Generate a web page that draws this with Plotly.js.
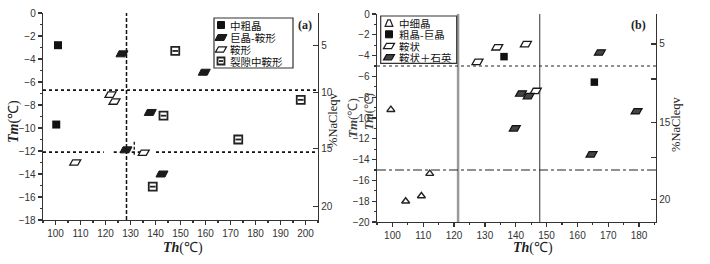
<!DOCTYPE html>
<html><head><meta charset="utf-8">
<script src="https://cdn.plot.ly/plotly-3.0.1.min.js"></script>
<style>html,body{margin:0;padding:0;background:#fff}#chart{width:710px;height:264px}</style>
</head><body><div id="chart"></div>
<script>
// ---------- data: panel (a) ----------
const a_names = ['中粗晶', '巨晶-鞍形', '鞍形', '裂隙中鞍形'];
const a_cg_th = [101.0, 100.3];
const a_cg_tm = [-2.8, -9.7];
const a_jj_th = [126.6, 159.5, 137.9, 142.6, 128.2];
const a_jj_tm = [-3.55, -5.15, -8.65, -14.0, -11.9];
const a_ax_th = [122.0, 123.6, 107.9, 135.3];
const a_ax_tm = [-7.1, -7.7, -13.0, -12.15];
const a_lx_th = [147.9, 143.2, 138.9, 173.1, 198.1];
const a_lx_tm = [-3.3, -8.93, -15.1, -11.0, -7.55];
const a_sal_vals = [-2.82, -6.9, -11.8, -16.8];
const a_sal_text = ['5', '10', '15', '20'];
const a_vline = 128.4;
const a_vseg = [131.5, -11.2, -12.4];
const a_hline1 = -6.7;
const a_hline2 = -12.1;
const a_hline2_segs = [[95, 119.3], [123.3, 137.5], [140.2, 205]];

// ---------- data: panel (b) ----------
const b_names = ['中细晶', '粗晶-巨晶', '鞍状', '鞍状＋石英'];
const b_xx_th = [99.5, 104.3, 109.4, 112.1];
const b_xx_tm = [-9.2, -18.0, -17.5, -15.35];
const b_cj_th = [136.2, 165.5];
const b_cj_tm = [-4.1, -6.55];
const b_az_th = [127.6, 134.0, 143.3, 146.5];
const b_az_tm = [-4.6, -3.2, -2.9, -7.4];
const b_aq_th = [167.3, 141.7, 144.2, 139.7, 179.2, 164.6];
const b_aq_tm = [-3.7, -7.65, -7.9, -11.0, -9.35, -13.5];
const b_sal_vals = [-2.88, -6.24, -10.4, -13.82, -17.82];
const b_sal_text = ['5', '', '15', '', '20'];
const b_vlines = [121.3, 147.8];
const b_hlines = [-5, -15];

// ---------- helpers ----------
const W = 710, H = 264;
const px = x => x / W, py = y => 1 - y / H;
const PARA = 'M-6,-3L3,-3L6,3L-3,3Z';
const PARA_S = 'M-5.5,-2.7L2.5,-2.7L5.5,2.7L-2.5,2.7Z';
const TRI = 'M-3.8,-3L3.8,-3L1.2,3.5L-1.2,3.5Z';

function pshape(xref, yref, x, y, path, fill, color, lw) {
  return {type: 'path', xref, yref, xsizemode: 'pixel', ysizemode: 'pixel',
    xanchor: x, yanchor: y, path, fillcolor: fill, line: {color, width: lw}, layer: 'above'};
}
function prect(xref, yref, x, y, hw, hh, fill, color, lw) {
  return {type: 'rect', xref, yref, xsizemode: 'pixel', ysizemode: 'pixel',
    xanchor: x, yanchor: y, x0: -hw, x1: hw, y0: -hh, y1: hh, fillcolor: fill, line: {color, width: lw}, layer: 'above'};
}

const shapes = [];
// reference lines (a)
shapes.push({type: 'line', xref: 'x', yref: 'y', x0: a_vline, x1: a_vline, y0: -18, y1: 0,
  line: {color: '#111', width: 1.5, dash: '4px,2px'}, layer: 'below'});
shapes.push({type: 'line', xref: 'x', yref: 'y', x0: a_vseg[0], x1: a_vseg[0], y0: a_vseg[1], y1: a_vseg[2],
  line: {color: '#111', width: 1.3, dash: '3px,2px'}, layer: 'below'});
shapes.push({type: 'line', xref: 'x', yref: 'y', x0: 95, x1: 205, y0: a_hline1, y1: a_hline1,
  line: {color: '#111', width: 1.8, dash: 'dot'}, layer: 'below'});
a_hline2_segs.forEach(s => shapes.push({type: 'line', xref: 'x', yref: 'y', x0: s[0], x1: s[1], y0: a_hline2, y1: a_hline2,
  line: {color: '#111', width: 1.8, dash: 'dot'}, layer: 'below'}));
// reference lines (b)
shapes.push({type: 'line', xref: 'x2', yref: 'y2', x0: b_vlines[0], x1: b_vlines[0], y0: -20, y1: 0,
  line: {color: '#999', width: 2.5}, layer: 'below'});
shapes.push({type: 'line', xref: 'x2', yref: 'y2', x0: b_vlines[1], x1: b_vlines[1], y0: -20, y1: 0,
  line: {color: '#333', width: 1}, layer: 'below'});
shapes.push({type: 'line', xref: 'x2', yref: 'y2', x0: 95, x1: 186, y0: b_hlines[0], y1: b_hlines[0],
  line: {color: '#222', width: 1, dash: 'dot'}, layer: 'below'});
shapes.push({type: 'line', xref: 'x2', yref: 'y2', x0: 95, x1: 186, y0: b_hlines[1], y1: b_hlines[1],
  line: {color: '#222', width: 1, dash: 'dashdot'}, layer: 'below'});

// parallelogram markers
a_jj_th.forEach((t, i) => shapes.push(pshape('x', 'y', t, a_jj_tm[i], PARA, '#1a1a1a', '#1a1a1a', 1)));
a_ax_th.forEach((t, i) => shapes.push(pshape('x', 'y', t, a_ax_tm[i], PARA_S, '#fff', '#1a1a1a', 1.3)));
b_az_th.forEach((t, i) => shapes.push(pshape('x2', 'y2', t, b_az_tm[i], PARA_S, '#fff', '#1a1a1a', 1.3)));
b_aq_th.forEach((t, i) => shapes.push(pshape('x2', 'y2', t, b_aq_tm[i], PARA_S, '#444', '#111', 1.2)));

// legend boxes
shapes.push({type: 'rect', xref: 'paper', yref: 'paper', x0: px(214), x1: px(293), y0: py(68), y1: py(18),
  line: {color: '#333', width: 1.2}, fillcolor: 'rgba(255,255,255,0)'});
shapes.push({type: 'rect', xref: 'paper', yref: 'paper', x0: px(380.7), x1: px(456.7), y0: py(63.3), y1: py(16),
  line: {color: '#333', width: 1.2}, fillcolor: 'rgba(255,255,255,0)'});
const aLegY = [25, 37.5, 49.5, 61], aSymX = 221, aTxtX = 229;
const bLegY = [23.3, 34.3, 46, 57.3], bSymX = 389, bTxtX = 398;
shapes.push(prect('paper', 'paper', px(aSymX), py(aLegY[0]), 3.5, 3.5, '#111', '#111', 1));
shapes.push(pshape('paper', 'paper', px(aSymX), py(aLegY[1]), PARA, '#1a1a1a', '#1a1a1a', 1));
shapes.push(pshape('paper', 'paper', px(aSymX), py(aLegY[2]), PARA_S, '#fff', '#1a1a1a', 1.3));
shapes.push(prect('paper', 'paper', px(aSymX), py(aLegY[3]), 3.5, 3.5, '#fff', '#222', 1.8));
shapes.push({type: 'line', xref: 'paper', yref: 'paper', xsizemode: 'pixel', ysizemode: 'pixel',
  xanchor: px(aSymX), yanchor: py(aLegY[3]), x0: -2, x1: 2, y0: 0, y1: 0, line: {color: '#222', width: 1.8}});
shapes.push(pshape('paper', 'paper', px(bSymX), py(bLegY[0]), TRI, '#fff', '#222', 1.3));
shapes.push(prect('paper', 'paper', px(bSymX), py(bLegY[1]), 3.5, 3.5, '#111', '#111', 1));
shapes.push(pshape('paper', 'paper', px(bSymX), py(bLegY[2]), PARA_S, '#fff', '#1a1a1a', 1.3));
shapes.push(pshape('paper', 'paper', px(bSymX), py(bLegY[3]), PARA_S, '#444', '#111', 1.2));

// ---------- traces ----------
const traces = [
  {x: a_cg_th, y: a_cg_tm, xaxis: 'x', yaxis: 'y', mode: 'markers', name: a_names[0],
   marker: {symbol: 'square', size: 8, color: '#111', line: {width: 0}}},
  {x: a_lx_th, y: a_lx_tm, xaxis: 'x', yaxis: 'y', mode: 'markers', name: a_names[3],
   marker: {symbol: 'square', size: 8, color: '#fff', line: {width: 1.8, color: '#222'}}},
  {x: a_lx_th, y: a_lx_tm, xaxis: 'x', yaxis: 'y', mode: 'markers', name: a_names[3], hoverinfo: 'skip',
   marker: {symbol: 'line-ew', size: 4, line: {width: 1.8, color: '#222'}}},
  {x: b_xx_th, y: b_xx_tm, xaxis: 'x2', yaxis: 'y2', mode: 'markers', name: b_names[0],
   marker: {symbol: 'triangle-up-open', size: 7, color: '#222', line: {width: 1.4, color: '#222'}}},
  {x: b_cj_th, y: b_cj_tm, xaxis: 'x2', yaxis: 'y2', mode: 'markers', name: b_names[1],
   marker: {symbol: 'square', size: 7.5, color: '#111', line: {width: 0}}},
  // right salinity axes (carry no marks)
  {x: [], y: [], xaxis: 'x', yaxis: 'y3', mode: 'markers'},
  {x: [], y: [], xaxis: 'x2', yaxis: 'y4', mode: 'markers'}
];

// ---------- axes ----------
const tickFont = {family: 'Liberation Sans, Arial, sans-serif', size: 10, color: '#333'};
const xBase = {showgrid: false, zeroline: false, showline: true, linecolor: '#333', linewidth: 1.3,
  ticks: 'outside', ticklen: 4, tickwidth: 1.2, tickcolor: '#333', tickfont: tickFont, dtick: 10, tick0: 100,
  minor: {dtick: 5, ticks: 'outside', ticklen: 2, tickcolor: '#333', showgrid: false}, fixedrange: true};
const yBase = {showgrid: false, zeroline: false, showline: true, linecolor: '#333', linewidth: 1.3,
  ticks: 'outside', ticklen: 4, tickwidth: 1.2, tickcolor: '#333', tickfont: tickFont, dtick: 2,
  minor: {dtick: 1, ticks: 'outside', ticklen: 2, tickcolor: '#333', showgrid: false}, fixedrange: true};
const rBase = {showgrid: false, zeroline: false, showline: true, linecolor: '#333', linewidth: 1.3,
  ticks: 'inside', ticklen: 5, tickwidth: 1.2, tickcolor: '#333', tickfont: tickFont, side: 'right',
  tickmode: 'array', fixedrange: true};

const serif = 'Liberation Serif, Times New Roman, serif';
const ann = (x, y, text, opt) => Object.assign({xref: 'paper', yref: 'paper', x: px(x), y: py(y), text,
  showarrow: false, xanchor: 'center', yanchor: 'middle', font: {family: serif, size: 14, color: '#222'}}, opt || {});
const cjk = {family: 'Noto Sans CJK SC, sans-serif', size: 10.5, color: '#111'};

const annotations = [
  ann(183, 248, '<i><b>Th</b></i>(℃)'),
  ann(533, 248, '<i><b>Th</b></i>(℃)'),
  ann(14, 122, '<i><b>Tm</b></i>(℃)', {textangle: -90}),
  ann(369, 112, '<i><b>Tm</b></i>(℃)', {textangle: -90, font: {family: serif, size: 12, color: '#444'}}),
  ann(333, 120, '%NaCleqv', {textangle: -90, font: {family: serif, size: 12.5, color: '#222'}}),
  ann(352, 118, '<i><b>Tm</b></i>(℃)', {textangle: -90, font: {family: serif, size: 13, color: '#444'}}),
  ann(676, 124, '%NaCleqv', {textangle: -90, font: {family: serif, size: 12.5, color: '#222'}}),
  ann(305, 25, '<b>(a)</b>', {font: {family: serif, size: 12, color: '#222'}}),
  ann(638, 25, '<b>(b)</b>', {font: {family: serif, size: 12, color: '#222'}})
];
a_names.forEach((n, i) => annotations.push(ann(aTxtX, aLegY[i], n,
  {xanchor: 'left', font: cjk, height: 11, borderpad: 0, valign: 'middle'})));
b_names.forEach((n, i) => annotations.push(ann(bTxtX, bLegY[i], n,
  {xanchor: 'left', font: cjk, height: 10.5, borderpad: 0, valign: 'middle'})));

const layout = {
  width: W, height: H, margin: {l: 0, r: 0, t: 0, b: 0}, showlegend: false,
  paper_bgcolor: '#fff', plot_bgcolor: '#fff',
  xaxis: Object.assign({}, xBase, {domain: [px(43), px(318)], range: [95, 205], anchor: 'y'}),
  yaxis: Object.assign({}, yBase, {domain: [py(220), py(13)], range: [-18, 0], anchor: 'x'}),
  yaxis3: Object.assign({}, rBase, {overlaying: 'y', anchor: 'x', range: [-18, 0],
    tickvals: a_sal_vals, ticktext: a_sal_text}),
  xaxis2: Object.assign({}, xBase, {domain: [px(377), px(656)], range: [95, 185.5], anchor: 'y2'}),
  yaxis2: Object.assign({}, yBase, {domain: [py(222), py(14)], range: [-20, 0], anchor: 'x2'}),
  yaxis4: Object.assign({}, rBase, {overlaying: 'y2', anchor: 'x2', range: [-20, 0],
    tickvals: b_sal_vals, ticktext: b_sal_text}),
  shapes, annotations
};
Plotly.newPlot('chart', traces, layout, {staticPlot: true, displayModeBar: false});
</script></body></html>
